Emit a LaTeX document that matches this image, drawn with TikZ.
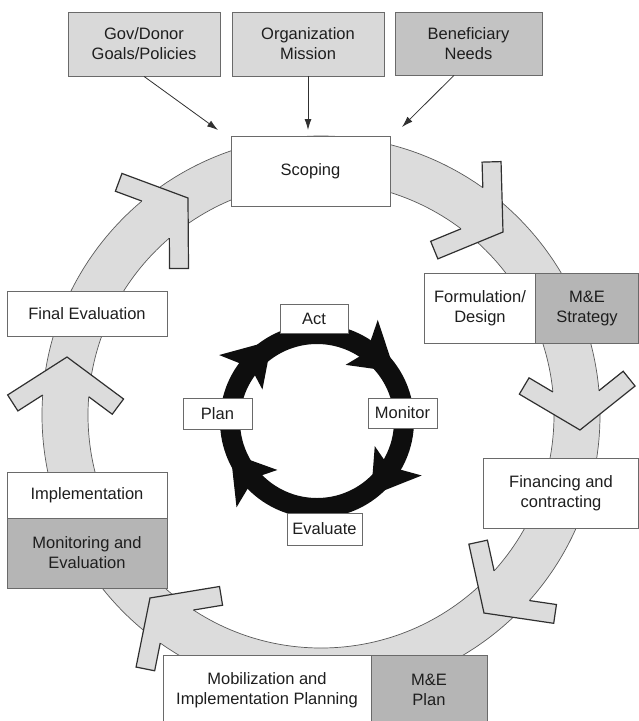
\documentclass[tikz,border=0pt]{standalone}
\usepackage{fontspec}
\setmainfont{Liberation Sans}
\usetikzlibrary{arrows.meta,calc,intersections}
\definecolor{lightbox}{HTML}{D9D9D9}
\definecolor{midbox}{HTML}{C3C3C3}
\definecolor{darkbox}{HTML}{B5B5B5}
\definecolor{ringfill}{HTML}{DCDCDC}
\definecolor{boxedge}{HTML}{6A6A6A}
\definecolor{ringedge}{HTML}{5A5A5A}
\definecolor{headedge}{HTML}{303030}
\definecolor{txt}{HTML}{1E1E1E}
\definecolor{blk}{HTML}{0E0E0E}
\newcommand\mygrayhead[2]{%
 \begin{scope}[shift={#1},rotate=#2]
  \coordinate (hT) at (0,0);
  \coordinate (hOA) at (-40,58); \coordinate (hIA) at (-55.6,47.2); \coordinate (hEA) at (-15.8,-10.4);
  \coordinate (hOB) at (-40,-58); \coordinate (hIB) at (-55.6,-47.2); \coordinate (hEB) at (-15.8,10.4);
 \end{scope}
 \path[name path=wingA] (hIA) -- (hEA);
 \path[name path=wingB] (hIB) -- (hEB);
 \path[name intersections={of=wingA and outerc,by=hSA}];
 \path[name intersections={of=wingB and innerc,by=hSB}];
 \fill[ringfill] (hT) -- (hOA) -- (hIA) -- (hSA) -- (hSB) -- (hIB) -- (hOB) -- cycle;
 \draw[headline] (hSA) -- (hIA) -- (hOA) -- (hT) -- (hOB) -- (hIB) -- (hSB);
}
\newcommand\myblackbarbs[1]{%
 \fill[blk] ($(B)+({#1-3}:95)$) -- ($(B)+(#1:118)$) -- ($(B)+({#1-21}:95)$) -- cycle;
 \fill[blk] ($(B)+({#1-3}:79)$) -- ($(B)+({#1+4}:63)$) -- ($(B)+({#1-18}:79)$) -- cycle;
}
\begin{document}
\begin{tikzpicture}[x=1pt,y=1pt,
  box/.style={draw=boxedge, line width=0.8pt, fill=white, align=center, inner sep=0pt,
    font=\fontsize{16.5}{20}\selectfont, text=txt},
  lightb/.style={box, fill=lightbox},
  midb/.style={box, fill=midbox},
  darkb/.style={box, fill=darkbox},
  conn/.style={draw=headedge, line width=0.8pt, -{Latex[length=11pt,width=7pt]}},
  ringline/.style={draw=ringedge, line width=0.7pt},
  headline/.style={draw=headedge, line width=1.2pt}
]
\useasboundingbox (0,0) rectangle (639,-721);
\fill[white] (0,0) rectangle (639,-721);

% top input boxes
\node[lightb, minimum width=152, minimum height=64] (gov) at (144,-44) {Gov/Donor\\Goals/Policies};
\node[lightb, minimum width=152, minimum height=64] (org) at (308,-44) {Organization\\Mission};
\node[midb, minimum width=147, minimum height=63] (ben) at (468.5,-43.5) {Beneficiary\\Needs};

\coordinate (g1) at (218,-130);
\coordinate (o1) at (308,-130);
\coordinate (b1) at (402,-127);
\draw[conn] (gov.south) -- (g1);
\draw[conn] (org.south) -- (o1);
\draw[conn] ($(ben.south)+(-14.5,0)$) -- (b1);

% big grey ring
\coordinate (C) at (321,-415);
\path[name path=outerc] (C) circle[radius=279];
\path[name path=innerc] (C) circle[radius=233];
\fill[ringfill, even odd rule] (C) circle[radius=279] (C) circle[radius=233];
\draw[ringline] (C) circle[radius=279];
\draw[ringline] (C) circle[radius=233];

\mygrayhead{(188,-198)}{35}
\mygrayhead{(503,-232)}{-33}
\mygrayhead{(580,-430)}{-86}
\mygrayhead{(484,-613)}{-133}
\mygrayhead{(150,-598)}{134}
\mygrayhead{(67,-357)}{88}

% black PDCA ring
\coordinate (B) at (317,-421);
\fill[blk, even odd rule] (B) circle[radius=97] (B) circle[radius=77];
\myblackbarbs{59}
\myblackbarbs{146}
\myblackbarbs{227}
\myblackbarbs{-27.5}

% boxes on the big ring
\node[box, minimum width=159, minimum height=70] (scope) at (310.5,-171) {Scoping};
\node[box, minimum width=112, minimum height=70] (form) at (480,-308) {Formulation/\\Design};
\node[darkb, minimum width=103, minimum height=70] (mes) at (587,-308) {M\&E\\Strategy};
\node[box, minimum width=160, minimum height=45] (final) at (87,-313.5) {Final Evaluation};
\node[box, minimum width=160, minimum height=46] (impl) at (87,-495) {Implementation};
\node[darkb, minimum width=160, minimum height=70] (mande) at (87,-553) {Monitoring and\\Evaluation};
\node[box, minimum width=155, minimum height=70] (fin) at (561,-493) {Financing and\\contracting};
\node[box, minimum width=208, minimum height=70] (mob) at (267,-690) {Mobilization and\\Implementation Planning};
\node[darkb, minimum width=116, minimum height=70] (meplan) at (429,-690) {M\&E\\Plan};

% inner labels
\node[box, minimum width=68, minimum height=29] (act) at (314,-318.5) {Act};
\node[box, minimum width=69, minimum height=31] (plan) at (217.5,-413.5) {Plan};
\node[box, minimum width=69, minimum height=30] (mon) at (402.5,-413) {Monitor};
\node[box, minimum width=75, minimum height=32] (eval) at (324.5,-529) {Evaluate};
\end{tikzpicture}
\end{document}
